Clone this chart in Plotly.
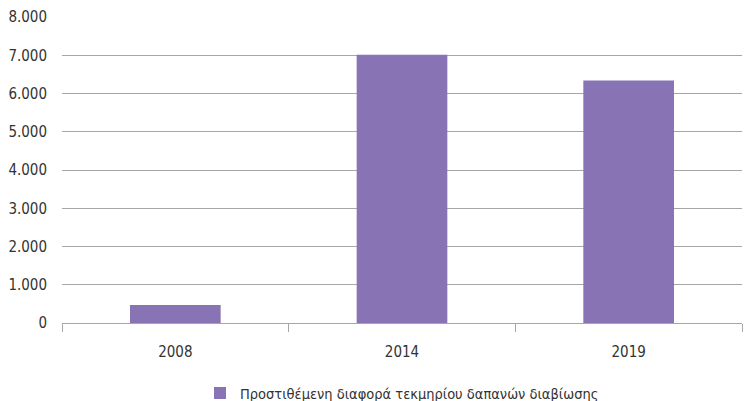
import plotly.graph_objects as go

years = ["2008", "2014", "2019"]
values = [470, 7010, 6340]
series_name = "Προστιθέμενη διαφορά τεκμηρίου δαπανών διαβίωσης"
y_ticks = [0, 1000, 2000, 3000, 4000, 5000, 6000, 7000, 8000]

font_family = "Liberation Sans Narrow, DejaVu Sans Condensed, Arial Narrow, sans-serif"

fig = go.Figure()
fig.add_trace(go.Bar(
    x=years, y=values, name=series_name,
    marker=dict(color="#8874B4", line=dict(width=0)),
    width=0.4, showlegend=True,
))

fig.update_layout(
    width=745, height=401,
    margin=dict(l=62, r=3, t=17, b=78, autoexpand=False),
    paper_bgcolor="white", plot_bgcolor="white",
    separators=",.",
    font=dict(family=font_family, size=15, color="#333333"),
    showlegend=True,
    legend=dict(orientation="h", x=0.5, xanchor="center", y=-0.229, yanchor="middle",
                font=dict(size=14.5, color="#333333"), itemwidth=30),
    bargap=0.6,
)
fig.update_xaxes(
    type="category", tickson="boundaries", ticks="outside", ticklen=8,
    tickcolor="#A6A6A6", showline=True, linecolor="#A6A6A6", linewidth=1,
    showgrid=False, tickfont=dict(size=15), automargin=False,
    ticklabelstandoff=15,
)
fig.update_yaxes(
    range=[0, 8000], tickvals=y_ticks, tickformat=",d",
    showgrid=True, gridcolor="#A6A6A6", gridwidth=1, zeroline=False,
    showline=False, ticks="", ticklabelstandoff=14, tickfont=dict(size=15),
    automargin=False,
)

fig.write_html(
    "out.html",
    config={"displayModeBar": False},
    post_script="document.body.style.margin='0';document.body.style.padding='0';",
)
